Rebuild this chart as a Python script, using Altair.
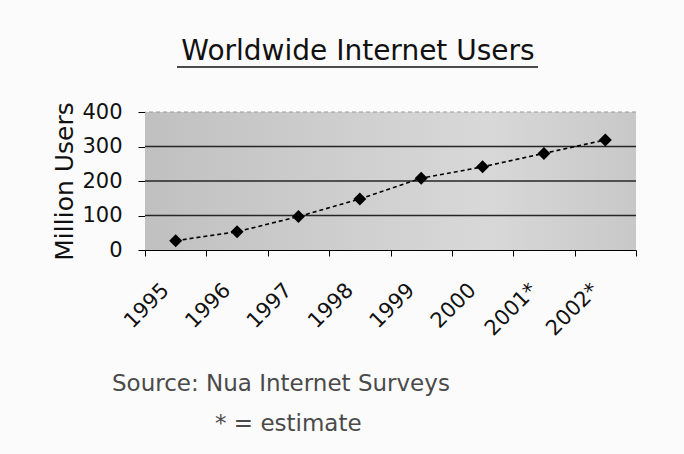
import altair as alt
import pandas as pd

# ---- data ----
years = ["1995", "1996", "1997", "1998", "1999", "2000", "2001*", "2002*"]
users = [27, 53, 97, 148, 208, 241, 280, 319]
grid_values = [100, 200, 300]
top_grid = [400]
y_ticks = [0, 100, 200, 300, 400]

title_text = "Worldwide Internet Users"
source_text = "Source: Nua Internet Surveys"
note_text = "* = estimate"

W, H = 491, 138
FONT = "DejaVu Sans"

df = pd.DataFrame({"year": years, "users": users})

x_enc = alt.X(
    "year:N",
    sort=years,
    scale=alt.Scale(paddingInner=0, paddingOuter=0),
    axis=alt.Axis(
        title=None,
        labelAngle=-45,
        labelAlign="right",
        labelBaseline="top",
        labelFont=FONT,
        labelFontSize=21,
        labelColor="#111",
        labelPadding=23,
        labelOffset=-18,
        labelOverlap=False,
        tickBand="extent",
        tickSize=6,
        tickColor="#000",
        domainColor="#000",
        domainWidth=1.2,
        grid=False,
    ),
)
y_scale = alt.Scale(domain=[0, 400], nice=False)
y_axis = alt.Axis(
    title="Million Users",
    titleFont=FONT,
    titleFontSize=25,
    titleFontWeight="normal",
    titleColor="#111",
    titleAngle=-90,
    titleBaseline="alphabetic",
    titleX=-73,
    values=y_ticks,
    labelFont=FONT,
    labelFontSize=21,
    labelColor="#111",
    labelPadding=16,
    labelOverlap=False,
    labelBaseline="middle",
    tickSize=7,
    tickColor="#000",
    domainColor="#000",
    grid=False,
)
y_enc = alt.Y("users:Q", scale=y_scale, axis=y_axis)

bg = alt.Chart(alt.Data(values=[{}])).mark_rect(
    color=alt.Gradient(
        gradient="linear",
        x1=0, x2=1, y1=0, y2=0,
        stops=[
            alt.GradientStop(offset=0, color="#c0c0c0"),
            alt.GradientStop(offset=0.45, color="#d0d0d0"),
            alt.GradientStop(offset=0.7, color="#d8d8d8"),
            alt.GradientStop(offset=1, color="#c8c8c8"),
        ],
    )
).encode(x=alt.value(0), x2=alt.value(W), y=alt.value(0), y2=alt.value(H))

grid = alt.Chart(pd.DataFrame({"users": grid_values})).mark_rule(
    color="#262626", strokeWidth=1.6
).encode(y=y_enc)

grid_top = alt.Chart(pd.DataFrame({"users": top_grid})).mark_rule(
    color="#9a9a9a", strokeWidth=1.2, strokeDash=[4, 3]
).encode(y=y_enc)

line = alt.Chart(df).mark_line(
    color="#000", strokeWidth=1.6, strokeDash=[4, 3]
).encode(x=x_enc, y=y_enc)

points = alt.Chart(df).mark_point(
    shape="diamond", filled=True, color="#000", size=170, opacity=1
).encode(x=x_enc, y=y_enc)

title = alt.Chart(alt.Data(values=[{"t": title_text}])).mark_text(
    font=FONT, fontSize=28, color="#111", align="center", baseline="alphabetic"
).encode(text="t:N", x=alt.value(213), y=alt.value(-52))

underline = alt.Chart(alt.Data(values=[{}])).mark_rule(
    color="#111", strokeWidth=1.6
).encode(x=alt.value(32), x2=alt.value(393), y=alt.value(-45))

source = alt.Chart(alt.Data(values=[{"t": source_text}])).mark_text(
    font=FONT, fontSize=23, color="#4a4a4a", align="left", baseline="alphabetic"
).encode(text="t:N", x=alt.value(-33), y=alt.value(279))

note = alt.Chart(alt.Data(values=[{"t": note_text}])).mark_text(
    font=FONT, fontSize=23, color="#4a4a4a", align="left", baseline="alphabetic"
).encode(text="t:N", x=alt.value(70), y=alt.value(319))

chart = alt.layer(
    bg, grid, grid_top, line, points, title, underline, source, note
).properties(
    width=W,
    height=H,
    autosize=alt.AutoSizeParams(type="none"),
    padding={"left": 145, "top": 112, "right": 48, "bottom": 204},
    background="#fbfbfb",
).configure_view(strokeWidth=0)

chart.save("out.html", embed_options={"renderer": "svg", "actions": False})
